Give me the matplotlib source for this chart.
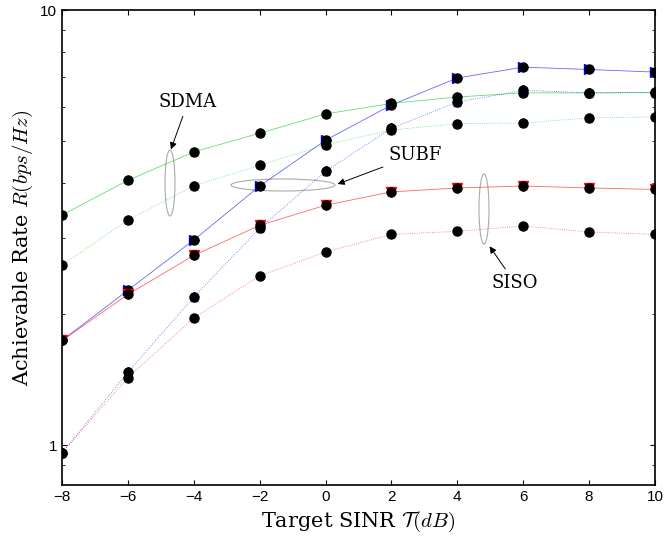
import matplotlib.pyplot as plt
import numpy as np
from matplotlib.patches import Ellipse

snr_db = [-8, -6, -4, -2, 0, 2, 4, 6, 8, 10]

sdma_solid = [3.38, 4.06, 4.72, 5.21, 5.77, 6.10, 6.31, 6.45, 6.45, 6.47]
sdma_dotted = [2.59, 3.29, 3.94, 4.40, 4.90, 5.30, 5.48, 5.50, 5.65, 5.68]
subf_solid = [1.74, 2.27, 2.96, 3.94, 5.02, 6.05, 6.98, 7.39, 7.30, 7.20]
subf_dotted = [0.96, 1.47, 2.19, 3.15, 4.26, 5.35, 6.14, 6.54, 6.45, 6.45]
siso_solid = [1.74, 2.22, 2.73, 3.20, 3.56, 3.82, 3.90, 3.94, 3.90, 3.87]
siso_dotted = [0.96, 1.43, 1.96, 2.45, 2.78, 3.05, 3.10, 3.19, 3.09, 3.05]

series = [
    (subf_solid, "blue", "-", ">"),
    (sdma_solid, "#00cc00", "-", "*"),
    (siso_solid, "red", "-", "v"),
    (subf_dotted, "blue", ":", "p"),
    (sdma_dotted, "#00cc00", ":", "*"),
    (siso_dotted, "red", ":", None),
]

plt.rcParams["mathtext.fontset"] = "cm"
fig = plt.figure(figsize=(6.64, 5.58), dpi=100)
ax = fig.add_axes([62 / 664, 73 / 558, 593 / 664, 475 / 558])

for vals, color, ls, mk in series:
    ax.plot(snr_db, vals, color=color, linestyle=ls, linewidth=0.6, alpha=0.6)
    if mk:
        ax.plot(snr_db, vals, linestyle="none", marker=mk, color=color, markersize=6.5)
    ax.plot(snr_db, vals, linestyle="none", marker="o", color="black", markersize=6.5)

ax.set_yscale("log")
ax.set_xlim(-8, 10)
ax.set_ylim(0.81, 10)
ax.set_xticks(snr_db)
ax.set_yticks([1, 10])
ax.set_yticklabels(["1", "10"])
ax.tick_params(which="both", direction="in", top=True, right=True, labelsize=11)
for lab in ax.get_xticklabels() + ax.get_yticklabels():
    lab.set_fontfamily("Liberation Sans")
for s in ax.spines.values():
    s.set_linewidth(1.2)

ax.set_xlabel(r"Target SINR $\mathcal{T}(dB)$", fontfamily="DejaVu Serif", fontsize=15)
ax.set_ylabel(r"Achievable Rate $R(bps/Hz)$", fontfamily="DejaVu Serif", fontsize=15)


def frac(px, py):
    return ((px - 62) / 593, (485 - py) / 475)


tr = ax.transAxes
ell_kw = dict(transform=tr, fill=False, edgecolor="#aaaaaa", linewidth=0.8)
ax.add_patch(Ellipse(frac(170, 183), 10 / 593, 66 / 475, **ell_kw))
ax.add_patch(Ellipse(frac(283, 185), 104 / 593, 12 / 475, **ell_kw))
ax.add_patch(Ellipse(frac(484, 209), 10 / 593, 70 / 475, **ell_kw))

arr = dict(arrowstyle="-|>", color="black", linewidth=0.7, mutation_scale=10)
ax.annotate("SDMA", xy=frac(170, 152), xytext=frac(188, 102), xycoords=tr, textcoords=tr,
            ha="center", va="center", fontsize=13, fontfamily="DejaVu Serif", arrowprops=arr)
ax.annotate("SUBF", xy=frac(335, 185), xytext=frac(415, 155), xycoords=tr, textcoords=tr,
            ha="center", va="center", fontsize=13, fontfamily="DejaVu Serif", arrowprops=arr)
ax.annotate("SISO", xy=frac(488, 244), xytext=frac(515, 283), xycoords=tr, textcoords=tr,
            ha="center", va="center", fontsize=13, fontfamily="DejaVu Serif", arrowprops=arr)

fig.savefig("out.png", dpi=100)
